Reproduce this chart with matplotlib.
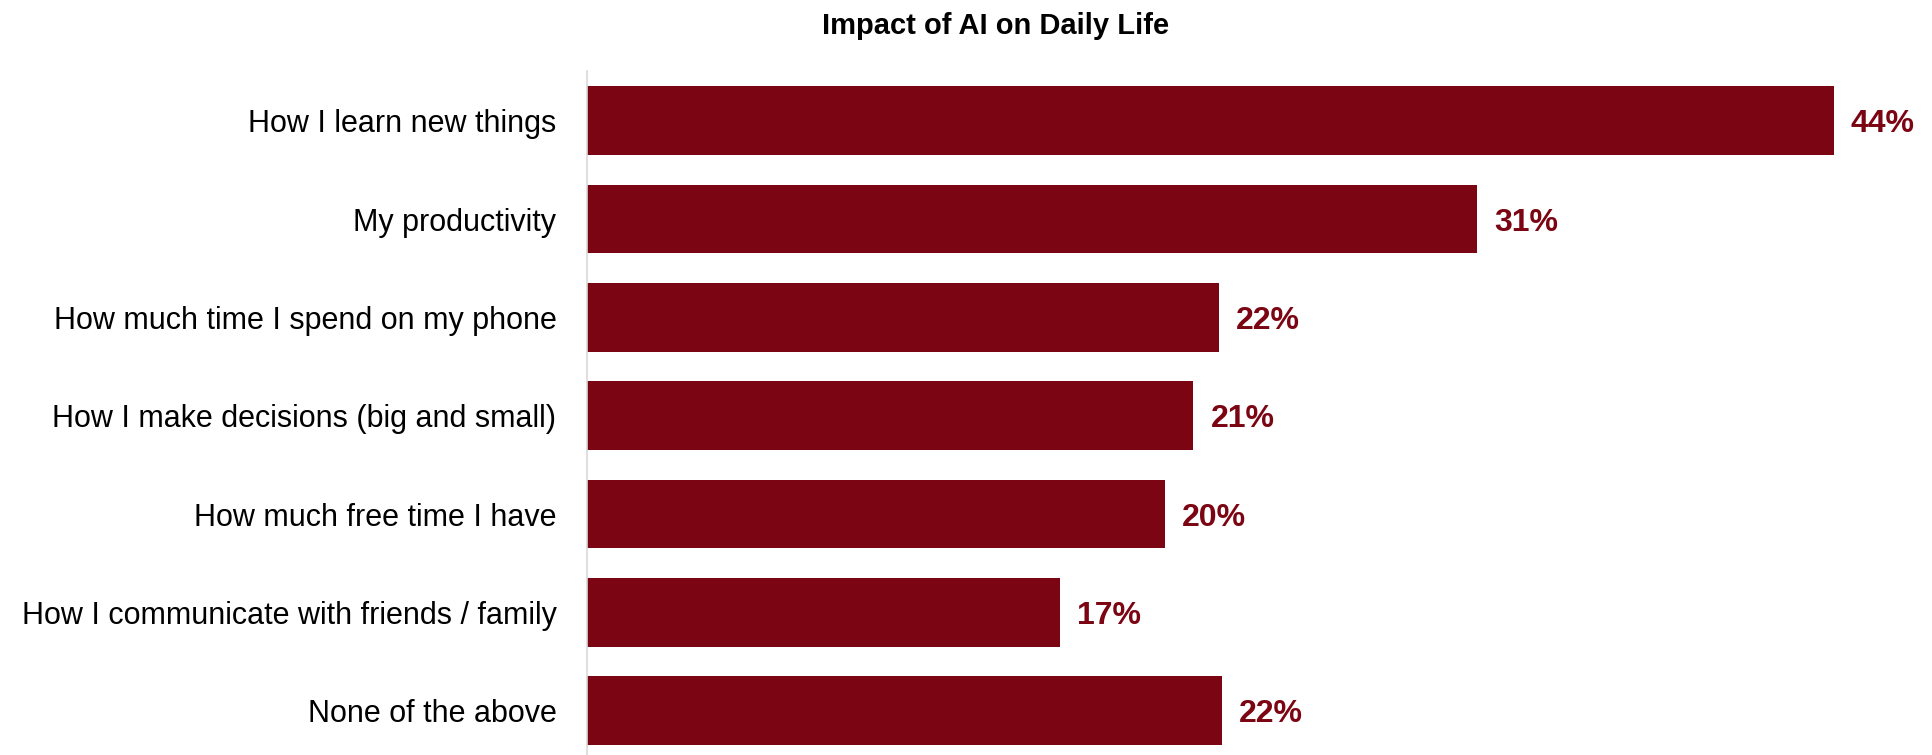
import matplotlib.pyplot as plt

# datos
categorias = [
    "How I learn new things",
    "My productivity",
    "How much time I spend on my phone",
    "How I make decisions (big and small)",
    "How much free time I have",
    "How I communicate with friends / family",
    "None of the above",
]
valores = [44.0, 31.4, 22.3, 21.4, 20.4, 16.7, 22.4]
etiquetas = ["44%", "31%", "22%", "21%", "20%", "17%", "22%"]

color_barra = "#7B0512"

plt.rcParams['font.family'] = ['Liberation Sans', 'DejaVu Sans']

fig = plt.figure(figsize=(19.33, 7.55), dpi=100)
ax = fig.add_axes([0.3037, 0.0, 0.6963, 0.9053])

pos = list(range(len(categorias)))
ax.barh(pos, valores, height=0.70, color=color_barra)

for p, v, txt in zip(pos, valores, etiquetas):
    ax.text(v + 0.6, p, txt, va='center_baseline', ha='left', fontsize=23,
            fontweight='bold', color=color_barra)

ax.set_yticks(pos)
ax.set_yticklabels(categorias, fontsize=22)
ax.tick_params(axis='y', length=0, pad=22)
ax.set_xticks([])
ax.set_xlim(0, 47.5)
ax.set_ylim(6.45, -0.5)

for s in ['top', 'right', 'bottom']:
    ax.spines[s].set_visible(False)
ax.spines['left'].set_color('#d9d9d9')
ax.spines['left'].set_linewidth(1.2)

fig.text(0.515, 0.965, "Impact of AI on Daily Life", ha='center', va='center',
         fontsize=21, fontweight='bold')

fig.savefig("out.png", dpi=100)
